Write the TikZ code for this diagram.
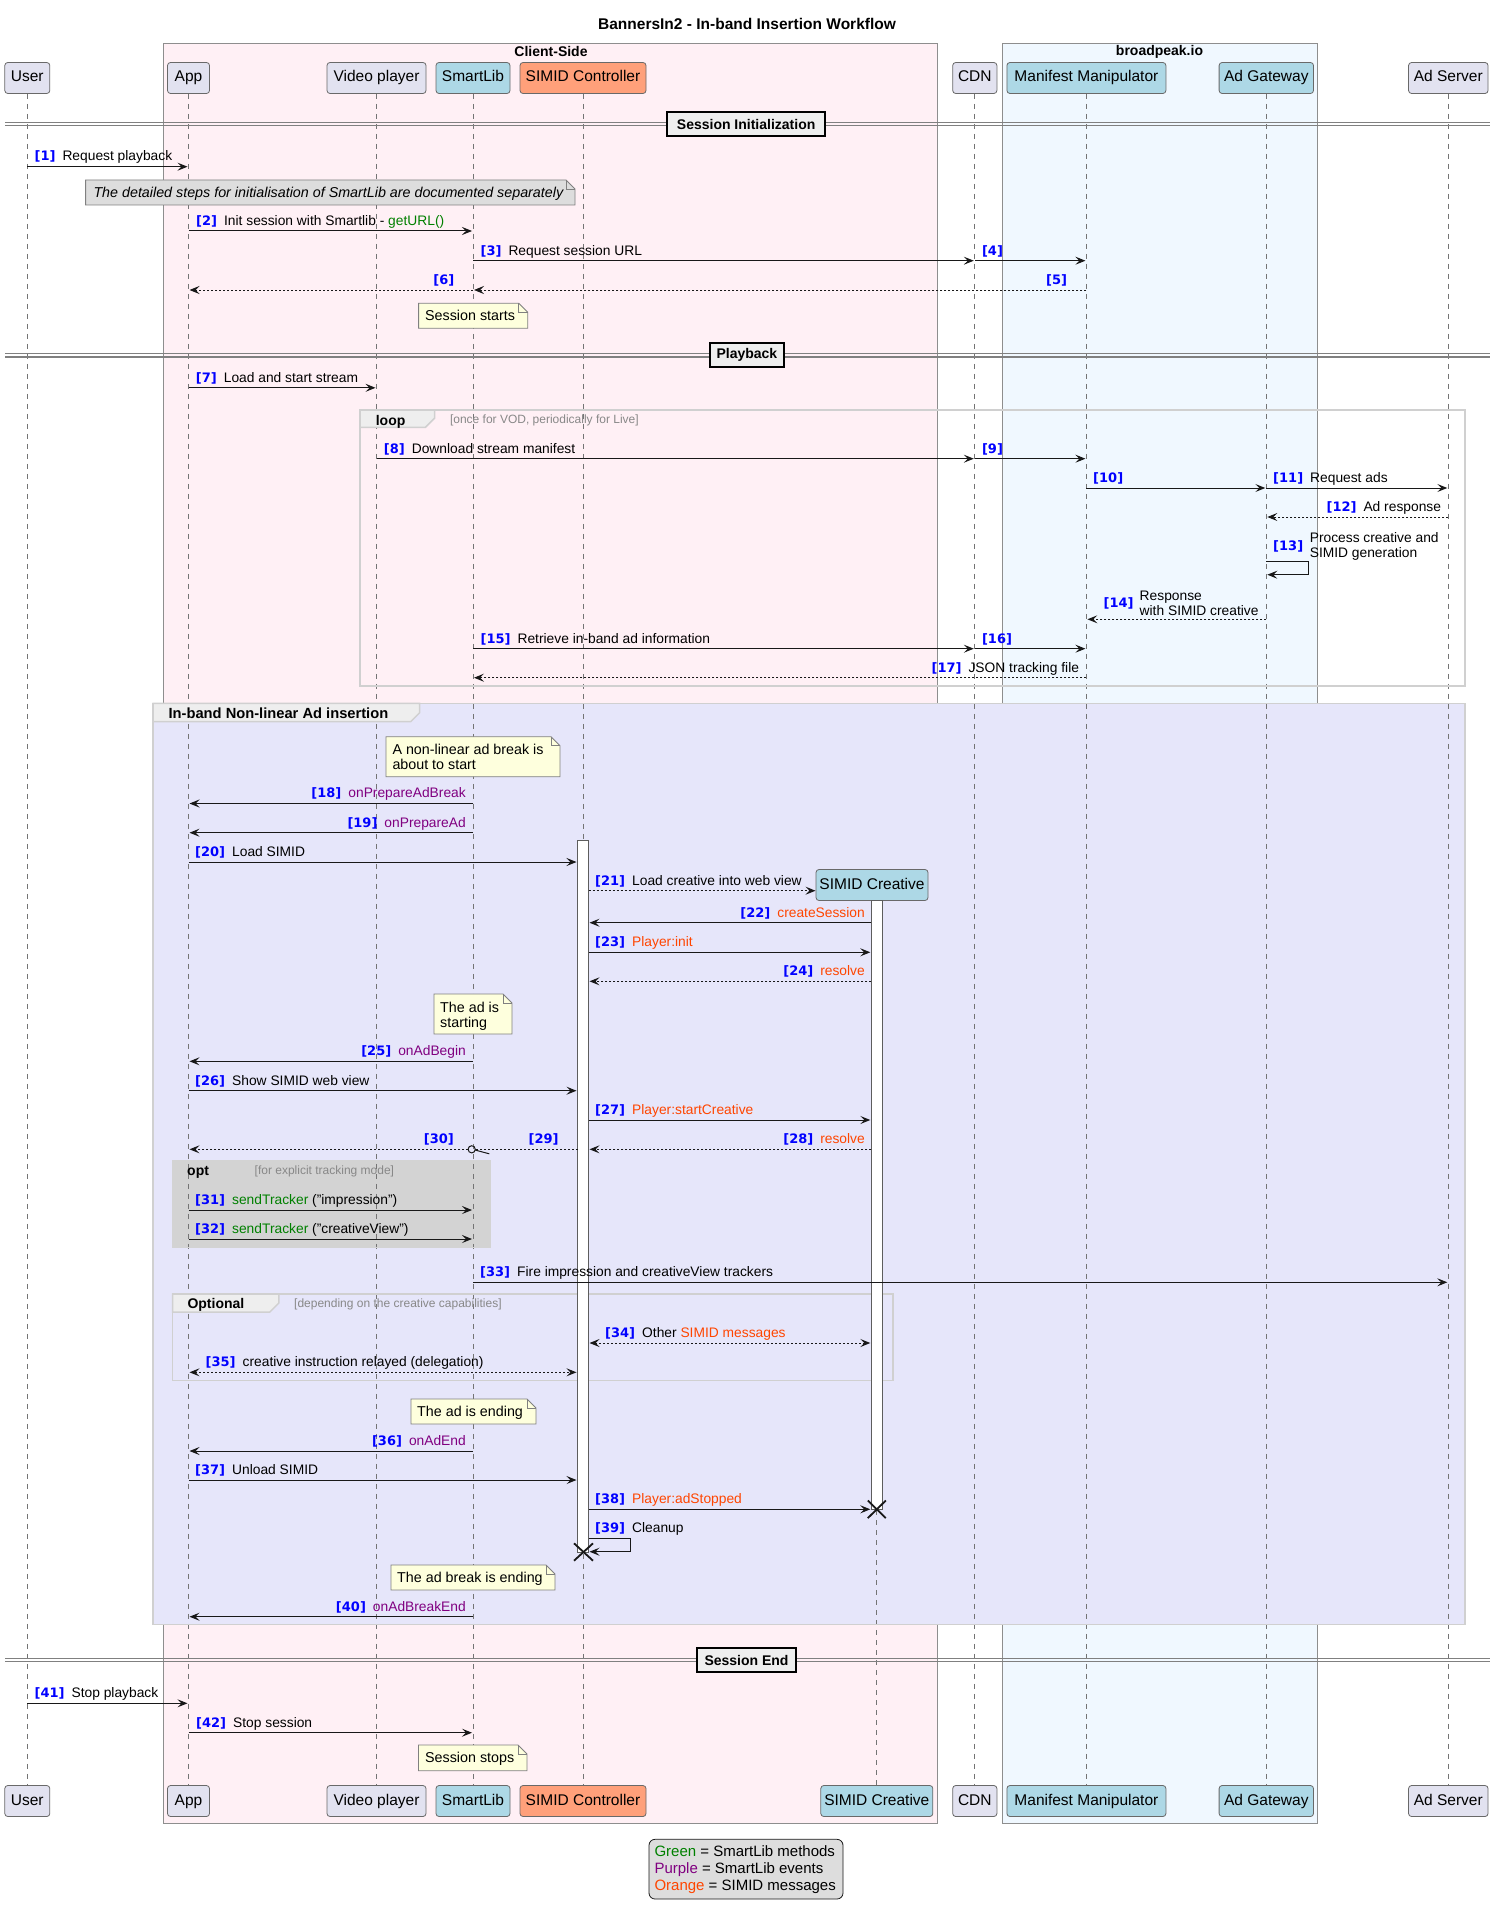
\documentclass[tikz,border=0pt]{standalone}
\usepackage{fontspec}
\setmainfont{Liberation Sans}
\newfontfamily\dvsans{DejaVu Sans}
\usetikzlibrary{arrows.meta}

\definecolor{cside}{HTML}{FFF0F5}
\definecolor{bpk}{HTML}{F0F8FF}
\definecolor{lav}{HTML}{E6E6FA}
\definecolor{partc}{HTML}{E2E2F0}
\definecolor{lblue}{HTML}{ADD8E6}
\definecolor{salmon}{HTML}{FFA07A}
\definecolor{numblue}{HTML}{0000FF}
\definecolor{purp}{HTML}{800080}
\definecolor{grn}{HTML}{008000}
\definecolor{orng}{HTML}{FF4500}
\definecolor{notey}{HTML}{FEFFDD}
\definecolor{gnote}{HTML}{DDDDDD}
\definecolor{tabc}{HTML}{EEEEEE}
\definecolor{ink}{HTML}{181818}
\definecolor{optc}{HTML}{D3D3D3}
\definecolor{grpline}{HTML}{D0D0D0}
\definecolor{boxline}{HTML}{8E8E8E}
\definecolor{condc}{HTML}{888888}

\newcommand\nb[1]{{\dvsans\bfseries\fontsize{13}{15}\selectfont\color{numblue}[#1]}}
\newcommand\gap{\hspace{7pt}}
\newcommand\pu[1]{\textcolor{purp}{#1}}
\newcommand\og[1]{\textcolor{orng}{#1}}
\newcommand\gr[1]{\textcolor{grn}{#1}}

\def\LU{27.3}\def\LA{188.5}\def\LV{376.5}\def\LS{473}\def\LC{583}
\def\LK{876.8}\def\LN{974.8}\def\LM{1086.4}\def\LG{1266.3}\def\LR{1448.3}
\def\CL{577.5}\def\CR{588.5}\def\KL{871.3}\def\KR{882.3}

\newcommand\msg[5][]{\coordinate (#2s) at (#3,#5);\coordinate (#2e) at (#4,#5);\draw[msgline,#1] (#2s) -- (#2e);}
\newcommand\lL[4]{\node[lbl,anchor=base west] (#1) at (#2,{#3-5.7}) {#4};}
\newcommand\lR[4]{\node[lbl,anchor=base east] (#1) at (#2,{#3-5.7}) {#4};}
\newcommand\notebox[5]{%
  \filldraw[notefr, fill=#5] (#1,#2) -- ({#3-9},#2) -- (#3,{#2+9}) -- (#3,#4) -- (#1,#4) -- cycle;
  \draw[notefr] ({#3-9},#2) -- ({#3-9},{#2+9}) -- (#3,{#2+9});}
\newcommand\grouptab[4]{%
  \filldraw[grpfr, fill=tabc] (#1,#2) -- (#3,#2) -- (#3,{#4-9}) -- ({#3-9},#4) -- (#1,#4) -- cycle;}
\newcommand\divider[5]{% name, y, x1, x2, text
  \draw[divline] (5,{#2-1.8}) -- (1490,{#2-1.8});
  \draw[divline] (5,{#2+1.8}) -- (1490,{#2+1.8});
  \draw[divfr] (#3,{#2-12}) rectangle (#4,{#2+12});
  \node[divtxt] (#1) at ({(#3+#4)/2},#2) {#5};}

\tikzset{
  part/.style={draw=ink!65, line width=0.8pt, rounded corners=3pt, minimum height=31pt,
    inner sep=0pt, text height=11.3pt, text depth=3.3pt, font=\fontsize{15.5}{18}\selectfont},
  pdef/.style={part, fill=partc},
  pblue/.style={part, fill=lblue},
  psal/.style={part, fill=salmon},
  life/.style={draw=ink!60, line width=0.8pt, dash pattern=on 5pt off 5pt},
  msgline/.style={draw=ink, line width=1pt, ->},
  dots/.style={dash pattern=on 2pt off 2pt},
  lbl/.style={inner sep=0pt, font=\fontsize{13.8}{16.5}\selectfont},
  notefr/.style={draw=ink!55, line width=0.8pt},
  notetxt/.style={inner sep=0pt, anchor=base west, font=\fontsize{14.3}{17}\selectfont},
  grpfr/.style={draw=grpline, line width=1.5pt},
  grplbl/.style={inner sep=0pt, anchor=base west, font=\bfseries\fontsize{14}{16}\selectfont},
  cond/.style={inner sep=0pt, anchor=base west, text=condc, font=\fontsize{12}{14}\selectfont},
  divline/.style={draw=ink!55, line width=1.3pt},
  divfr/.style={draw=black, line width=1.8pt, fill=tabc},
  divtxt/.style={inner sep=0pt, font=\bfseries\fontsize{14}{16}\selectfont},
  boxfr/.style={draw=boxline, line width=1pt},
  boxlbl/.style={inner sep=0pt, font=\bfseries\fontsize{14}{16}\selectfont},
  bar/.style={draw=ink!70, line width=1pt, fill=white},
  xmark/.style={draw=ink, line width=1.8pt},
}

\begin{document}
\begin{tikzpicture}[x=1pt,y=-1pt,>={Stealth[length=10pt,width=8pt,inset=4pt]}]
\useasboundingbox (0,0) rectangle (1495,1918);
\fill[white] (0,0) rectangle (1495,1918);

% title
\node[inner sep=0pt, font=\bfseries\fontsize{15.5}{18}\selectfont] (title) at (747,24) {BannersIn2 - In-band Insertion Workflow};

% boxes
\draw[boxfr, fill=cside] (163.6,43.3) rectangle (937.2,1823.3);
\node[boxlbl] (cslbl) at (551,51.7) {Client-Side};
\draw[boxfr, fill=bpk] (1002.7,43.3) rectangle (1317.2,1823.3);
\node[boxlbl] (bplbl) at (1159.5,51.7) {broadpeak.io};

% group fills
\fill[lav] (153,703.3) rectangle (1465,1624.3);
\fill[optc] (172,1160.3) rectangle (490,1247.7);

% participants top
\node[pdef, minimum width=45pt] (User) at (\LU,78) {User};
\node[pdef, minimum width=42pt] (App) at (\LA,78) {App};
\node[pdef, minimum width=99pt] (VP) at (\LV,78) {Video player};
\node[pblue, minimum width=74pt] (SL) at (\LS,78) {SmartLib};
\node[psal, minimum width=126pt] (SC) at (\LC,78) {SIMID Controller};
\node[pdef, minimum width=44.2pt] (CDN) at (\LN,78) {CDN};
\node[pblue, minimum width=159pt] (MM) at (\LM,78) {Manifest Manipulator};
\node[pblue, minimum width=94.4pt] (AG) at (\LG,78) {Ad Gateway};
\node[pdef, minimum width=79.5pt] (AS) at (\LR,78) {Ad Server};
% participants bottom
\node[pdef, minimum width=45pt] (Userb) at (\LU,1801) {User};
\node[pdef, minimum width=42pt] (Appb) at (\LA,1801) {App};
\node[pdef, minimum width=99pt] (VPb) at (\LV,1801) {Video player};
\node[pblue, minimum width=74pt] (SLb) at (\LS,1801) {SmartLib};
\node[psal, minimum width=126pt] (SCb) at (\LC,1801) {SIMID Controller};
\node[pblue, minimum width=112pt] (CRb) at (\LK,1801) {SIMID Creative};
\node[pdef, minimum width=44.2pt] (CDNb) at (\LN,1801) {CDN};
\node[pblue, minimum width=159pt] (MMb) at (\LM,1801) {Manifest Manipulator};
\node[pblue, minimum width=94.4pt] (AGb) at (\LG,1801) {Ad Gateway};
\node[pdef, minimum width=79.5pt] (ASb) at (\LR,1801) {Ad Server};

% lifelines
\foreach \a in {User,App,VP,SL,SC,CDN,MM,AG,AS}{\draw[life] (\a.south) -- (\a b.north);}
\coordinate (CRtop) at (\LK,900.3);
\draw[life] (CRtop) -- (CRb.north);

% group frames
\draw[grpfr] (360,410) rectangle (1465,686);
\grouptab{360}{410}{434.5}{427.3}
\node[grplbl] (looplbl) at (375.6,425) {loop};
\node[cond] (loopc) at (449.8,423.3) {[once for VOD, periodically for Live]};

\draw[grpfr] (153,703.3) rectangle (1465,1624.3);
\grouptab{153}{703.3}{419.6}{721.7}
\node[grplbl, font=\bfseries\fontsize{14.7}{17}\selectfont] (ibl) at (168.4,718) {In-band Non-linear Ad insertion};

\draw[draw=optc, line width=1pt] (172,1160.3) rectangle (490,1247.7);
\node[grplbl] (optl) at (187,1175.7) {opt};
\node[cond] (optc) at (254.5,1174.3) {[for explicit tracking mode]};

\draw[grpfr] (172.7,1294) rectangle (893,1380.7);
\grouptab{172.7}{1294}{278.8}{1312}
\node[grplbl] (optll) at (187.3,1308.7) {Optional};
\node[cond] (optlc) at (294,1307.3) {[depending on the creative capabilities]};

% dividers
\divider{d1}{124}{667.3}{825}{Session Initialization}
\divider{d2}{355.3}{709.6}{784.2}{Playback}
\divider{d3}{1660}{697}{796}{Session End}

% activation bars
\draw[bar] (\CL,840.7) rectangle (\CR,1552);
\node[pblue, minimum width=112pt] (CR) at (872,885) {SIMID Creative};
\draw[bar] (\KL,900.3) rectangle (\KR,1509.3);

% ---- messages
\msg{m1}{\LU}{\LA-1}{166.7}   \lL{l1}{34.4}{166.7}{\nb{1}\gap Request playback}
\notebox{85.6}{180}{575}{205}{gnote}
\node[notetxt, font=\itshape\fontsize{14.3}{17}\selectfont] (n1) at (93.3,197.6) {The detailed steps for initialisation of SmartLib are documented separately};
\msg{m2}{\LA}{\LS-1}{231}     \lL{l2}{196}{231}{\nb{2}\gap Init session with Smartlib - \gr{getURL()}}
\msg{m3}{\LS}{\LN-1}{260.7}   \lL{l3}{480.4}{260.7}{\nb{3}\gap Request session URL}
\msg{m4}{\LN}{\LM-1}{260.7}   \lL{l4}{981.8}{260.7}{\nb{4}}
\msg[dots]{m5}{\LM}{\LS+1}{290} \lR{l5}{1067.3}{290}{\nb{5}}
\msg[dots]{m6}{\LS}{\LA+1}{290} \lR{l6}{454.5}{290}{\nb{6}}
\notebox{418.6}{303.3}{527.8}{328.3}{notey}
\node[notetxt] (n2) at (425,320.7) {Session starts};

\msg{m7}{\LA}{\LV-1}{387.8}   \lL{l7}{195.7}{387.8}{\nb{7}\gap Load and start stream}
\msg{m8}{\LV}{\LN-1}{458.7}   \lL{l8}{383.7}{458.7}{\nb{8}\gap Download stream manifest}
\msg{m9}{\LN}{\LM-1}{458.7}   \lL{l9}{981.8}{458.7}{\nb{9}}
\msg{m10}{\LM}{\LG-1}{488}    \lL{l10}{1093}{488}{\nb{10}}
\msg{m11}{\LG}{\LR-1}{488}    \lL{l11}{1273}{488}{\nb{11}\gap Request ads}
\msg[dots]{m12}{\LR}{\LG+1}{517} \lR{l12}{1441.2}{517}{\nb{12}\gap Ad response}
% self 13
\coordinate (m13s) at (\LG,561.7); \coordinate (m13e) at (\LG+1,574.7);
\draw[msgline] (m13s) -- (1308.7,561.7) -- (1308.7,574.7) -- (m13e);
\node[lbl, anchor=base west] (l13n) at (1273,550.4) {\nb{13}};
\node[lbl, anchor=base west] (l13a) at (1309.6,542.6) {Process creative and};
\node[lbl, anchor=base west] (l13b) at (1309.6,557.6) {SIMID generation};
\msg[dots]{m14}{\LG}{\LM+1}{619.3}
\node[lbl, anchor=base west] (l14n) at (1103.4,607.5) {\nb{14}};
\node[lbl, anchor=base west] (l14a) at (1139.5,600.6) {Response};
\node[lbl, anchor=base west] (l14b) at (1139.5,615.6) {with SIMID creative};
\msg{m15}{\LS}{\LN-1}{648.7}  \lL{l15}{480.4}{648.7}{\nb{15}\gap Retrieve in-band ad information}
\msg{m16}{\LN}{\LM-1}{648.7}  \lL{l16}{981.8}{648.7}{\nb{16}}
\msg[dots]{m17}{\LM}{\LS+1}{677.7} \lR{l17}{1079.2}{677.7}{\nb{17}\gap JSON tracking file}

\notebox{386}{736.7}{560}{776.7}{notey}
\node[notetxt] (n3a) at (392.3,754.2) {A non-linear ad break is};
\node[notetxt] (n3b) at (392.3,769.6) {about to start};
\msg{m18}{\LS}{\LA+1}{803.5}  \lR{l18}{466}{803.5}{\nb{18}\gap \pu{onPrepareAdBreak}}
\msg{m19}{\LS}{\LA+1}{832.7}  \lR{l19}{466}{832.7}{\nb{19}\gap \pu{onPrepareAd}}
\msg{m20}{\LA}{\CL-1}{862}    \lL{l20}{195}{862}{\nb{20}\gap Load SIMID}
\msg[dots]{m21}{\CR}{815.5}{890.7} \lL{l21}{595}{890.7}{\nb{21}\gap Load creative into web view}
\msg{m22}{\KL}{\CR+1}{922.7}  \lR{l22}{865}{922.7}{\nb{22}\gap \og{createSession}}
\msg{m23}{\CR}{\KL-1}{952.3}  \lL{l23}{595}{952.3}{\nb{23}\gap \og{Player:init}}
\msg[dots]{m24}{\KL}{\CR+1}{981.3} \lR{l24}{865}{981.3}{\nb{24}\gap \og{resolve}}
\notebox{434}{994}{512}{1034}{notey}
\node[notetxt] (n4a) at (440,1012.2) {The ad is};
\node[notetxt] (n4b) at (440,1027.6) {starting};
\msg{m25}{\LS}{\LA+1}{1061.3} \lR{l25}{466}{1061.3}{\nb{25}\gap \pu{onAdBegin}}
\msg{m26}{\LA}{\CL-1}{1090.7} \lL{l26}{195}{1090.7}{\nb{26}\gap Show SIMID web view}
\msg{m27}{\CR}{\KL-1}{1120}   \lL{l27}{595}{1120}{\nb{27}\gap \og{Player:startCreative}}
\msg[dots]{m28}{\KL}{\CR+1}{1149.3} \lR{l28}{865}{1149.3}{\nb{28}\gap \og{resolve}}
\msg[dots,-]{m29}{\CL}{475.5}{1149.3} \lR{l29}{558.8}{1149.3}{\nb{29}}
\draw[draw=ink, line width=1pt] (471.7,1149.3) circle[radius=3.6pt];
\draw[draw=ink, line width=1pt] (475,1150) -- (489.3,1153.8);
\msg[dots]{m30}{468}{\LA+1}{1149.3} \lR{l30}{454}{1149.3}{\nb{30}}
\msg{m31}{\LA}{\LS-1}{1210}   \lL{l31}{195}{1210}{\nb{31}\gap \gr{sendTracker} ("impression")}
\msg{m32}{\LA}{\LS-1}{1239}   \lL{l32}{195}{1239}{\nb{32}\gap \gr{sendTracker} ("creativeView")}
\msg{m33}{\LS}{\LR-1}{1282.3} \lL{l33}{480}{1282.3}{\nb{33}\gap Fire impression and creativeView trackers}
\msg[dots,<->]{m34}{\CR+1}{\KL-1}{1343} \lL{l34}{605}{1343}{\nb{34}\gap Other \og{SIMID messages}}
\msg[dots,<->]{m35}{\LA+1}{\CL-1}{1372.3} \lL{l35}{205.5}{1372.3}{\nb{35}\gap creative instruction relayed (delegation)}
\notebox{411}{1399}{536}{1424}{notey}
\node[notetxt] (n5) at (417,1416.4) {The ad is ending};
\msg{m36}{\LS}{\LA+1}{1451}   \lR{l36}{466}{1451}{\nb{36}\gap \pu{onAdEnd}}
\msg{m37}{\LA}{\CL-1}{1480}   \lL{l37}{195}{1480}{\nb{37}\gap Unload SIMID}
\msg{m38}{\CR}{\KL-1}{1509.3} \lL{l38}{595}{1509.3}{\nb{38}\gap \og{Player:adStopped}}
\draw[xmark] (867.8,1500.5) -- (885.8,1518.1) (867.8,1518.1) -- (885.8,1500.5);
% self 39
\coordinate (m39s) at (\CR,1538.3); \coordinate (m39e) at (\CR+1,1551.7);
\draw[msgline] (m39s) -- (630,1538.3) -- (630,1551.7) -- (m39e);
\lL{l39}{595}{1538.3}{\nb{39}\gap Cleanup}
\draw[xmark] (574,1543.3) -- (593,1560.7) (574,1560.7) -- (593,1543.3);
\notebox{391}{1565}{555}{1590}{notey}
\node[notetxt] (n6) at (397,1582.4) {The ad break is ending};
\msg{m40}{\LS}{\LA+1}{1616.7} \lR{l40}{466}{1616.7}{\nb{40}\gap \pu{onAdBreakEnd}}

\msg{m41}{\LU}{\LA-1}{1703.3} \lL{l41}{34.4}{1703.3}{\nb{41}\gap Stop playback}
\msg{m42}{\LA}{\LS-1}{1732.7} \lL{l42}{196}{1732.7}{\nb{42}\gap Stop session}
\notebox{418.5}{1745}{527}{1770.7}{notey}
\node[notetxt] (n7) at (425,1762.7) {Session stops};

% legend
\draw[rounded corners=6pt, fill=gnote, draw=ink, line width=0.8pt] (649,1839.3) rectangle (843,1899);
\node[inner sep=0pt, anchor=base west, font=\fontsize{15}{17}\selectfont] (lg1) at (654.3,1856.7) {\gr{Green} = SmartLib methods};
\node[inner sep=0pt, anchor=base west, font=\fontsize{15}{17}\selectfont] (lg2) at (654.3,1873.3) {\pu{Purple} = SmartLib events};
\node[inner sep=0pt, anchor=base west, font=\fontsize{15}{17}\selectfont] (lg3) at (654.3,1890) {\og{Orange} = SIMID messages};
\end{tikzpicture}
\end{document}
